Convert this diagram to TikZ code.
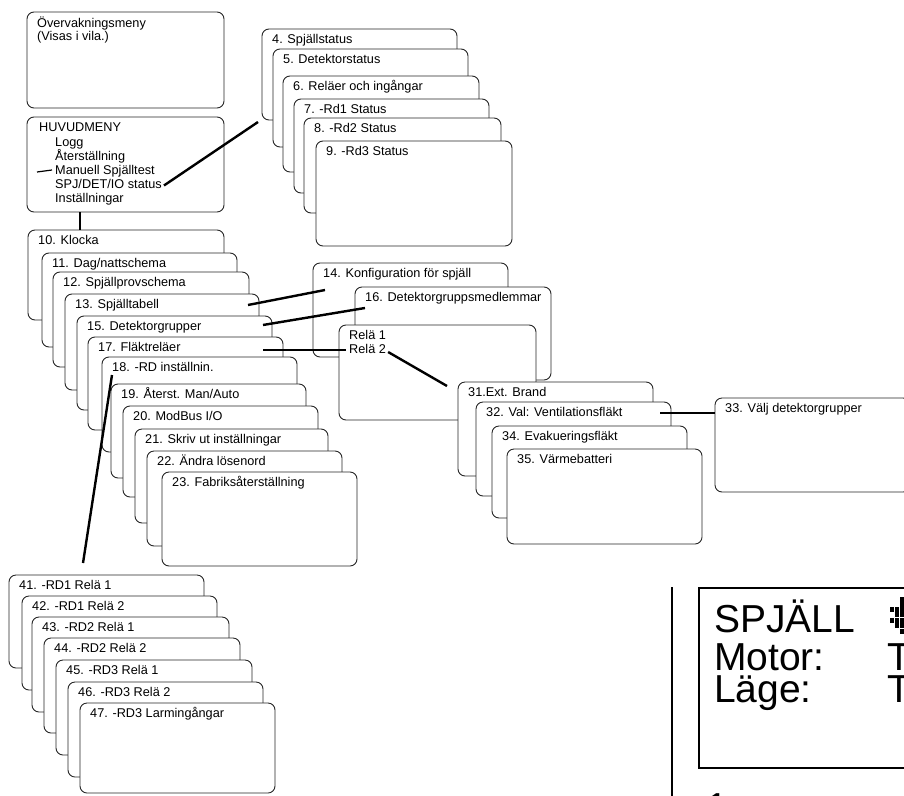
\documentclass[tikz,border=0pt]{standalone}
\usepackage{fontspec}
\setmainfont{Liberation Sans}
\tikzset{
  mbox/.style={draw=black!85, line width=0.9pt, rounded corners=7pt, fill=white, inner sep=0pt, outer sep=0pt},
  mtext/.style={inner sep=0pt, anchor=base west, font=\fontsize{12.7}{15}\selectfont},
  conn/.style={line width=2.4pt},
  lcdtext/.style={inner sep=0pt, anchor=base west, font=\fontsize{39}{39}\selectfont},
  lcdpix/.style={fill=black}
}
\newcommand\menubox[6]{%
  \node[mbox, minimum width=#4pt, minimum height=#5pt, anchor=north west] (#1) at (#2,#3) {};
  \node[mtext] (#1t) at ({#2+10},{#3+14.5}) {#6};
}
\begin{document}
\begin{tikzpicture}[x=1pt,y=-1pt]
\clip (0,0) rectangle (904,795);
\fill[white] (0,0) rectangle (904,795);

% Top-left menus
\node[mbox, minimum width=197pt, minimum height=96pt, anchor=north west] (ov) at (27,12) {};
\node[mtext] (ov1) at (37,27.3) {Övervakningsmeny};
\node[mtext] (ov2) at (37,40) {(Visas i vila.)};

\node[mbox, minimum width=197pt, minimum height=95pt, anchor=north west] (hm) at (27,117) {};
\node[mtext] (hm0) at (39,131.7) {HUVUDMENY};
\node[mtext] (hm1) at (55,146) {Logg};
\node[mtext] (hm2) at (55,160) {Återställning};
\node[mtext] (hm3) at (55,174.3) {Manuell Spjälltest};
\node[mtext] (hm4) at (55,188.5) {SPJ/DET/IO status};
\node[mtext] (hm5) at (55,202.8) {Inställningar};

% Stack 4-9
\menubox{b4}{262}{29}{195}{91}{4. Spjällstatus}
\menubox{b5}{273}{49}{195}{98}{5. Detektorstatus}
\menubox{b6}{283}{76}{196}{96}{6. Reläer och ingångar}
\menubox{b7}{294}{99}{195}{94}{7. -Rd1 Status}
\menubox{b8}{304}{118}{197}{95}{8. -Rd2 Status}
\menubox{b9}{316}{141}{196}{105}{9. -Rd3 Status}

% Stack 10-23
\menubox{b10}{28}{230}{196}{90}{10. Klocka}
\menubox{b11}{42}{253}{195}{94}{11. Dag/nattschema}
\menubox{b12}{53}{272}{196}{95}{12. Spjällprovschema}
\menubox{b13}{65}{294}{194}{96}{13. Spjälltabell}
\menubox{b15}{77}{316}{195}{94}{15. Detektorgrupper}
\menubox{b17}{88}{337}{195}{93}{17. Fläktreläer}
\menubox{b18}{102}{357}{195}{95}{18. -RD inställnin.}
\menubox{b19}{111}{384}{195}{94}{19. Återst. Man/Auto}
\menubox{b20}{123}{406}{195}{91}{20. ModBus I/O}
\menubox{b21}{135}{429}{193}{94}{21. Skriv ut inställningar}
\menubox{b22}{147}{451}{195}{95}{22. Ändra lösenord}
\menubox{b23}{162}{472}{195}{94}{23. Fabriksåterställning}

% Stack 14/16/Relä
\menubox{b14}{313}{263}{195}{94}{14. Konfiguration för spjäll}
\menubox{b16}{355}{287}{196}{93}{16. Detektorgruppsmedlemmar}
\node[mbox, minimum width=197pt, minimum height=95pt, anchor=north west] (rel) at (339,325) {};
\node[mtext] (rel1) at (349,339) {Relä 1};
\node[mtext] (rel2) at (349,353.5) {Relä 2};

% Stack 31-35 and 33
\menubox{b31}{458}{382}{195}{94}{31.Ext. Brand}
\menubox{b32}{476}{402}{195}{94}{32. Val: Ventilationsfläkt}
\menubox{b34}{492}{426}{195}{92}{34. Evakueringsfläkt}
\menubox{b35}{507}{449}{195}{95}{35. Värmebatteri}
\menubox{b33}{715}{398}{195}{94}{33. Välj detektorgrupper}

% Stack 41-47
\menubox{b41}{9}{575}{195}{93}{41. -RD1 Relä 1}
\menubox{b42}{22}{596}{195}{94}{42. -RD1 Relä 2}
\menubox{b43}{32}{617}{197}{95}{43. -RD2 Relä 1}
\menubox{b44}{44}{638}{196}{95}{44. -RD2 Relä 2}
\menubox{b45}{56}{660}{196}{95}{45. -RD3 Relä 1}
\menubox{b46}{68}{682}{195}{95}{46. -RD3 Relä 2}
\menubox{b47}{80}{703}{195}{90}{47. -RD3 Larmingångar}

% Connector end points
\coordinate (c4) at (258,122);
\coordinate (c10) at (80,230);
\coordinate (c13) at (248,305);
\coordinate (c14) at (325,290);
\coordinate (c15) at (263,325);
\coordinate (c16) at (365,308);
\coordinate (c17) at (263,350);
\coordinate (c31) at (447,386);
\coordinate (c32) at (660,413);
\coordinate (c18) at (112,375);
\coordinate (c41) at (83,563);
\coordinate (cdash) at (37,172);

% Connectors
\draw[conn] ([xshift=2pt,yshift=3pt]hm4.base east) -- (c4);
\draw[conn] (hm.south -| c10) -- (c10);
\draw[line width=1.2pt] (cdash) -- ([xshift=-3pt,yshift=4.3pt]hm3.base west);
\draw[conn] (c13) -- (c14);
\draw[conn] (c15) -- (c16);
\draw[conn] (c17) -- ([xshift=-3pt,yshift=3.5pt]rel2.base west);
\draw[conn] ([xshift=2pt,yshift=1.5pt]rel2.base east) -- (c31);
\draw[conn] (c32) -- (b33.west |- c32);
\draw[conn] (c18) -- (c41);

% LCD fragment
\draw[line width=1.2pt] (672,587) -- (672,800);
\node[draw, line width=1.8pt, minimum width=240pt, minimum height=180pt, anchor=north west, inner sep=0pt] (lcd) at (698,587) {};
\node[lcdtext] (l1) at (714,632) {SPJÄLL};
\node[lcdtext] (l2) at (714,670) {Motor:};
\node[lcdtext] (l2b) at (887,670) {T};
\node[lcdtext] (l3) at (714,702) {Läge:};
\node[lcdtext] (l3b) at (887,702) {T};
\node[lcdtext] (l4) at (706,820) {1};
% pixel glyph
\foreach \xx/\yy in {900/597,900/602,890/607,895/607,900/607,895/612,900/612,890/618,895/618,900/618,895/623,900/623,900/629}
  \fill[lcdpix] (\xx,\yy) rectangle ++(4.4,4.6);
\end{tikzpicture}
\end{document}
